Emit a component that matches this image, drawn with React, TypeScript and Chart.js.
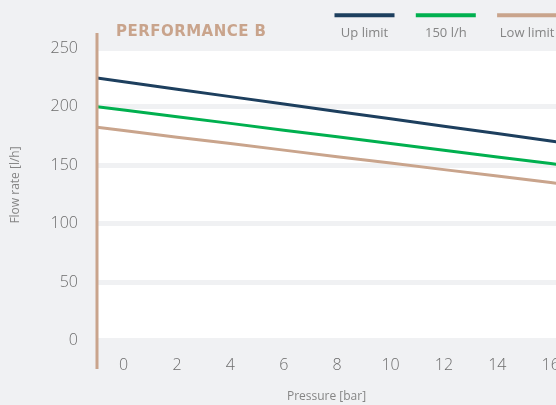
import { useEffect, useRef } from "react";
import { Chart, registerables } from "chart.js";

Chart.register(...registerables);

const pressure = [-1, 0, 2, 4, 6, 8, 10, 12, 14, 16, 17];
const upLimit = [224.7, 221.5, 215.2, 208.8, 202.5, 196.0, 189.8, 183.5, 177.2, 170.8, 167.7];
const flow150 = [200.2, 197.3, 191.6, 185.9, 180.1, 174.4, 168.7, 162.9, 157.2, 151.5, 148.6];
const lowLimit = [182.5, 179.7, 174.1, 168.6, 163.0, 157.4, 151.9, 146.3, 140.8, 135.2, 132.4];
const seriesNames = ["Up limit", "150 l/h", "Low limit"];
const seriesColors = ["#1d3f5e", "#00b04f", "#c9a48c"];
const xTicks = [0, 2, 4, 6, 8, 10, 12, 14, 16];
const yTicks = [0, 50, 100, 150, 200, 250];
const chartTitle = "PERFORMANCE B";
const xTitle = "Pressure [bar]";
const yTitle = "Flow rate [l/h]";

const BG = "#f0f1f3";
const TAN = "#c9a48c";
const TEXT = "#6c6c6c";
const LABEL = "#858585";
const FONT = "'Open Sans', sans-serif";

export default function App() {
  const ref = useRef<HTMLCanvasElement | null>(null);

  useEffect(() => {
    const canvas = ref.current;
    if (!canvas) return;
    Chart.defaults.font.family = FONT;

    const deco = {
      id: "deco",
      beforeDraw(chart: any) {
        const { ctx, chartArea } = chart;
        ctx.save();
        ctx.fillStyle = "#ffffff";
        ctx.fillRect(chartArea.left, chartArea.top, chartArea.right - chartArea.left, chartArea.bottom - chartArea.top);
        ctx.restore();
      },
      afterDraw(chart: any) {
        const { ctx, chartArea } = chart;
        ctx.save();
        // left axis line
        ctx.strokeStyle = TAN;
        ctx.lineWidth = 3;
        ctx.beginPath();
        ctx.moveTo(chartArea.left, 33);
        ctx.lineTo(chartArea.left, 369);
        ctx.stroke();

        // title
        ctx.fillStyle = TAN;
        ctx.font = `bold 15px 'DejaVu Sans', sans-serif`;
        ctx.textBaseline = "middle";
        ctx.textAlign = "left";
        const w = ctx.measureText(chartTitle).width;
        const sp = (150 - w) / (chartTitle.length - 1);
        (ctx as any).letterSpacing = `${sp}px`;
        ctx.fillText(chartTitle, 116, 32);
        (ctx as any).letterSpacing = "0px";

        // legend
        seriesNames.forEach((name, i) => {
          const cx = 364.5 + i * 81.3;
          ctx.strokeStyle = seriesColors[i];
          ctx.lineWidth = 4;
          ctx.beginPath();
          ctx.moveTo(cx - 30, 15.3);
          ctx.lineTo(cx + 30, 15.3);
          ctx.stroke();
          ctx.fillStyle = LABEL;
          ctx.font = `13px ${FONT}`;
          ctx.textAlign = "center";
          ctx.textBaseline = "middle";
          ctx.fillText(name, cx, 33.5);
        });

        // y title
        ctx.translate(15.5, 185);
        ctx.rotate(-Math.PI / 2);
        ctx.fillStyle = LABEL;
        ctx.font = `12px ${FONT}`;
        ctx.textAlign = "center";
        ctx.textBaseline = "middle";
        ctx.fillText(yTitle, 0, 0);
        ctx.restore();
      },
    };

    const mk = (vals: number[]) => pressure.map((x, i) => ({ x, y: vals[i] }));

    const chart = new Chart(canvas, {
      type: "line",
      data: {
        datasets: [upLimit, flow150, lowLimit].map((vals, i) => ({
          label: seriesNames[i],
          data: mk(vals),
          borderColor: seriesColors[i],
          backgroundColor: seriesColors[i],
          borderWidth: 3,
          pointRadius: 0,
          tension: 0,
          fill: false,
        })),
      },
      options: {
        responsive: false,
        animation: false,
        layout: { padding: { top: 48.5, left: 0, right: 0, bottom: 0 } },
        plugins: { legend: { display: false }, title: { display: false }, tooltip: { enabled: false } },
        scales: {
          x: {
            type: "linear",
            min: -1,
            max: 16.2,
            afterBuildTicks: (s: any) => {
              s.ticks = xTicks.map((v) => ({ value: v }));
            },
            afterFit: (s: any) => {
              s.height = 64.5;
              s.paddingLeft = 0;
              s.paddingRight = 0;
            },
            grid: { display: false, drawTicks: false },
            border: { display: false },
            ticks: { color: TEXT, font: { size: 16, family: FONT, weight: "300" }, padding: 15, maxRotation: 0, autoSkip: false },
            title: {
              display: true,
              text: xTitle,
              color: LABEL,
              font: { size: 12, family: FONT },
              padding: { top: 0, bottom: 1 },
            },
          },
          y: {
            type: "linear",
            min: 0,
            max: 250,
            afterBuildTicks: (s: any) => {
              s.ticks = yTicks.map((v) => ({ value: v }));
            },
            afterFit: (s: any) => {
              s.width = 97;
              s.paddingTop = 0;
              s.paddingBottom = 0;
            },
            grid: { color: BG, lineWidth: 5, drawTicks: false },
            border: { display: false },
            ticks: { color: TEXT, font: { size: 16, family: FONT, weight: "300" }, padding: 19 },
          },
        },
      },
      plugins: [deco],
    });
    return () => chart.destroy();
  }, []);

  return (
    <div
      style={{
        position: "fixed",
        left: 0,
        top: 0,
        width: 556,
        height: 405,
        overflow: "hidden",
        background: BG,
      }}
    >
      <canvas ref={ref} width={556} height={405} style={{ display: "block" }} />
    </div>
  );
}
